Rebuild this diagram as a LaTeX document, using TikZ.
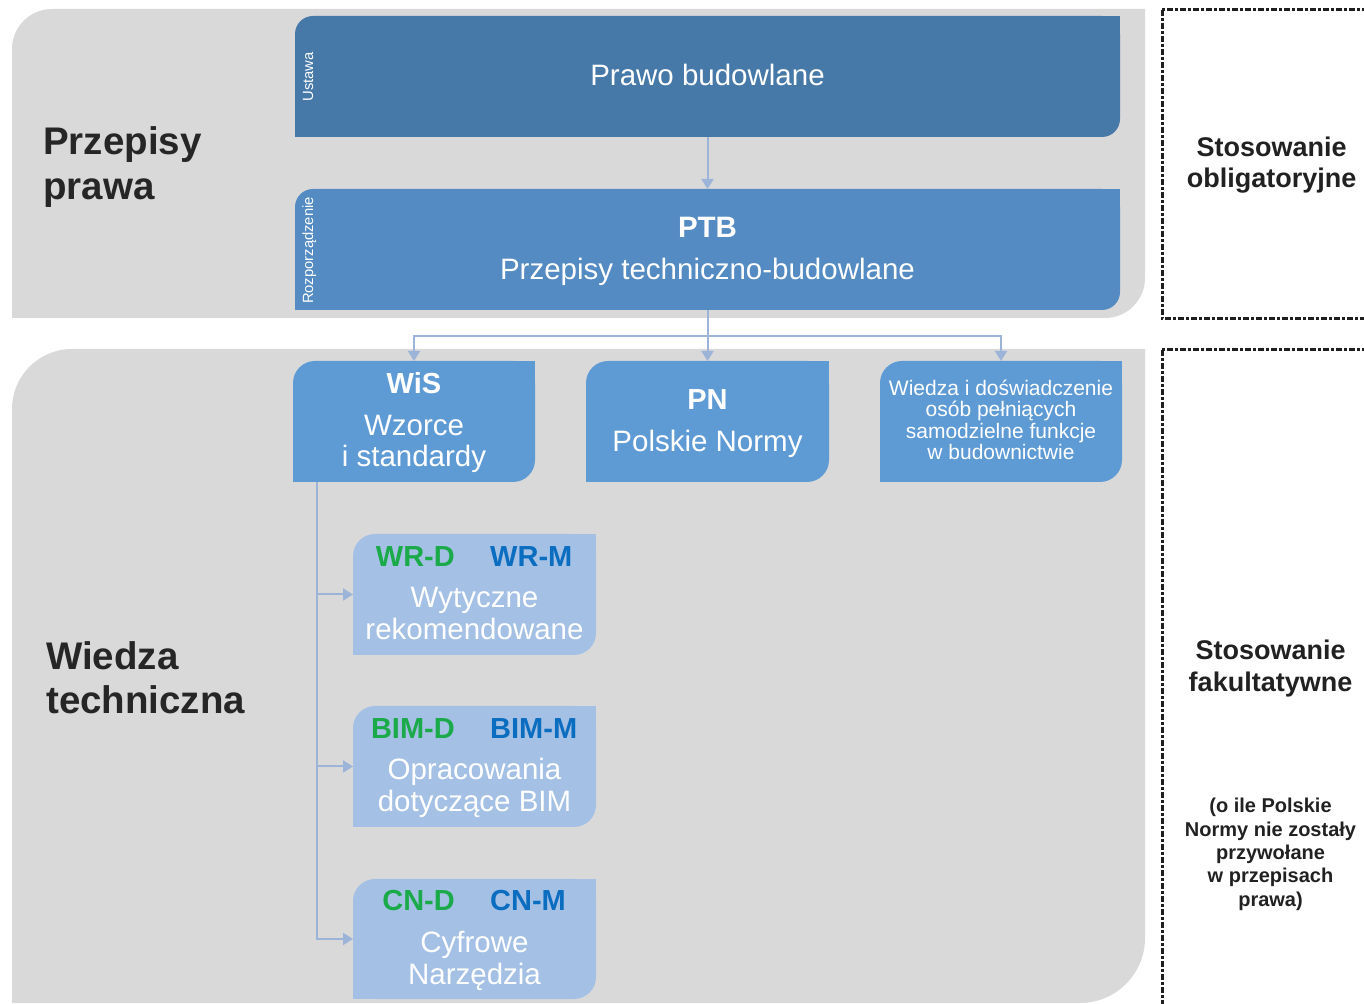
\documentclass[tikz,border=0pt]{standalone}
\usepackage{fontspec}
\setmainfont{Liberation Sans}
\usetikzlibrary{arrows.meta}
\definecolor{panel}{HTML}{D9D9D9}
\definecolor{cA}{HTML}{4679A8}
\definecolor{cB}{HTML}{538BC2}
\definecolor{cC}{HTML}{5E9BD5}
\definecolor{cD}{HTML}{A4C1E5}
\definecolor{cConn}{HTML}{9DB4D9}
\definecolor{cGreen}{HTML}{1BAA4A}
\definecolor{cBlue}{HTML}{0B6DC0}
\definecolor{cDark}{HTML}{262626}
\newcommand\shapefill[3]{%
  \fill[#2, rounded corners=#3pt] (#1.south west) rectangle (#1.north east);
  \fill[#2] (#1.south west) rectangle ++(#3,#3);
  \fill[#2] (#1.north east) rectangle ++(-#3,-#3);}
\newcommand\fsz[1]{\fontsize{#1}{#1}\selectfont}
\tikzset{
  box/.style 2 args={minimum width=#1pt, minimum height=#2pt, inner sep=0pt, outer sep=0pt},
  txt/.style={inner sep=0pt, anchor=base, text=white},
  conn/.style={draw=cConn, line width=2pt},
  arr/.style={-{Triangle[width=12pt,length=10pt]}},
  dashbox/.style={draw=black!88, line width=3pt, dash pattern=on 6pt off 2pt on 3pt off 2pt},
  big/.style={inner sep=0pt, anchor=base west, text=cDark, font=\fsz{38.5}\bfseries},
  side/.style={inner sep=0pt, anchor=base, text=black!87, font=\fsz{27}\bfseries},
  sidesmall/.style={inner sep=0pt, anchor=base, text=black!87, font=\fsz{20}\bfseries},
  vlab/.style={inner sep=0pt, anchor=base, rotate=90, text=white, font=\fsz{14.8}},
  tag/.style={inner sep=0pt, font=\fsz{29}\bfseries},
  reg/.style={txt, font=\fsz{29.5}}
}
\begin{document}
\begin{tikzpicture}[x=1pt,y=1pt]
\useasboundingbox (0,0) rectangle (1364,1003);
% panels
\fill[panel] (12,685) -- (12,954) arc[start angle=180,end angle=90,radius=40] -- (1145,994) -- (1145,725) arc[start angle=0,end angle=-90,radius=40] -- cycle;
\fill[panel] (12,0) -- (12,594) arc[start angle=180,end angle=90,radius=60] -- (1145,654) -- (1145,65) arc[start angle=0,end angle=-90,radius=65] -- cycle;
% dashed boxes
\draw[dashbox] (1162,993) rectangle (1385,684);
\draw[dashbox] (1162,653) rectangle (1385,-20);
% boxes
\node[box={825}{121}] (A) at (707.5,926.5) {};
\node[box={825}{121}] (B) at (707.5,753.5) {};
\node[box={242}{121}] (C) at (414,581.5) {};
\node[box={243}{121}] (D) at (707.5,581.5) {};
\node[box={242}{121}] (E) at (1001,581.5) {};
\node[box={243}{121}] (F) at (474.5,408.5) {};
\node[box={243}{121}] (G) at (474.5,236.5) {};
\node[box={243}{120}] (H) at (474.5,64) {};
\shapefill{A}{cA}{18}
\shapefill{B}{cB}{18}
\shapefill{C}{cC}{22}
\shapefill{D}{cC}{22}
\shapefill{E}{cC}{22}
\shapefill{F}{cD}{22}
\shapefill{G}{cD}{22}
\shapefill{H}{cD}{22}
% connectors
\coordinate (j) at (707.5,667);
\coordinate (v) at (317,521);
\draw[conn, arr] (A.south) -- (B.north);
\draw[conn] (B.south) -- (j);
\draw[conn, arr] (j) -| (C.north);
\draw[conn, arr] (j) -- (D.north);
\draw[conn, arr] (j) -| (E.north);
\draw[conn, arr] (v) |- (F.west);
\draw[conn, arr] (v) |- (G.west);
\draw[conn, arr] (v) |- (H.west);
% vertical labels
\node[vlab] (ust) at (313,926) {Ustawa};
\node[vlab] (roz) at (313,752.5) {Rozporządzenie};
% box texts
\node[txt, font=\fsz{29.5}] (tA) at (707.5,917) {Prawo budowlane};
\node[txt, font=\fsz{29.5}\bfseries] (tB1) at (707.5,765) {PTB};
\node[txt, font=\fsz{29.5}] (tB2) at (707.5,723) {Przepisy techniczno-budowlane};
\node[txt, font=\fsz{29}\bfseries] (tC1) at (414,609) {WiS};
\node[reg] (tC2) at (414,567) {Wzorce};
\node[reg] (tC3) at (414,536) {i standardy};
\node[txt, font=\fsz{29}\bfseries] (tD1) at (707.5,593) {PN};
\node[reg] (tD2) at (707.5,551) {Polskie Normy};
\node[txt, font=\fsz{21}] (tE1) at (1001,607) {Wiedza i doświadczenie};
\node[txt, font=\fsz{21}] (tE2) at (1001,586) {osób pełniących};
\node[txt, font=\fsz{21}] (tE3) at (1001,564) {samodzielne funkcje};
\node[txt, font=\fsz{21}] (tE4) at (1001,543) {w budownictwie};
\node[tag, anchor=base east, text=cGreen] (tF1) at (455,436) {WR-D};
\node[tag, anchor=base west, text=cBlue] (tF2) at (490,436) {WR-M};
\node[reg] (tF3) at (474.5,395) {Wytyczne};
\node[reg] (tF4) at (474.5,363) {rekomendowane};
\node[tag, anchor=base east, text=cGreen] (tG1) at (455,264) {BIM-D};
\node[tag, anchor=base west, text=cBlue] (tG2) at (490,264) {BIM-M};
\node[reg] (tG3) at (474.5,223) {Opracowania};
\node[reg] (tG4) at (474.5,191) {dotyczące BIM};
\node[tag, anchor=base east, text=cGreen] (tH1) at (455,92) {CN-D};
\node[tag, anchor=base west, text=cBlue] (tH2) at (490,92) {CN-M};
\node[reg] (tH3) at (474.5,50) {Cyfrowe};
\node[reg] (tH4) at (474.5,19) {Narzędzia};
% left labels
\node[big] (l1) at (43,848) {Przepisy};
\node[big] (l2) at (43,803) {prawa};
\node[big] (l3) at (46,333) {Wiedza};
\node[big] (l4) at (46,289) {techniczna};
% right labels
\node[side] (r1) at (1271.5,846) {Stosowanie};
\node[side] (r2) at (1271.5,815) {obligatoryjne};
\node[side] (r3) at (1270.5,343) {Stosowanie};
\node[side] (r4) at (1270.5,311) {fakultatywne};
\node[sidesmall] (s1) at (1270.5,190) {(o ile Polskie};
\node[sidesmall] (s2) at (1270.5,166) {Normy nie zostały};
\node[sidesmall] (s3) at (1270.5,143) {przywołane};
\node[sidesmall] (s4) at (1270.5,120) {w przepisach};
\node[sidesmall] (s5) at (1270.5,96) {prawa)};
\end{tikzpicture}
\end{document}
